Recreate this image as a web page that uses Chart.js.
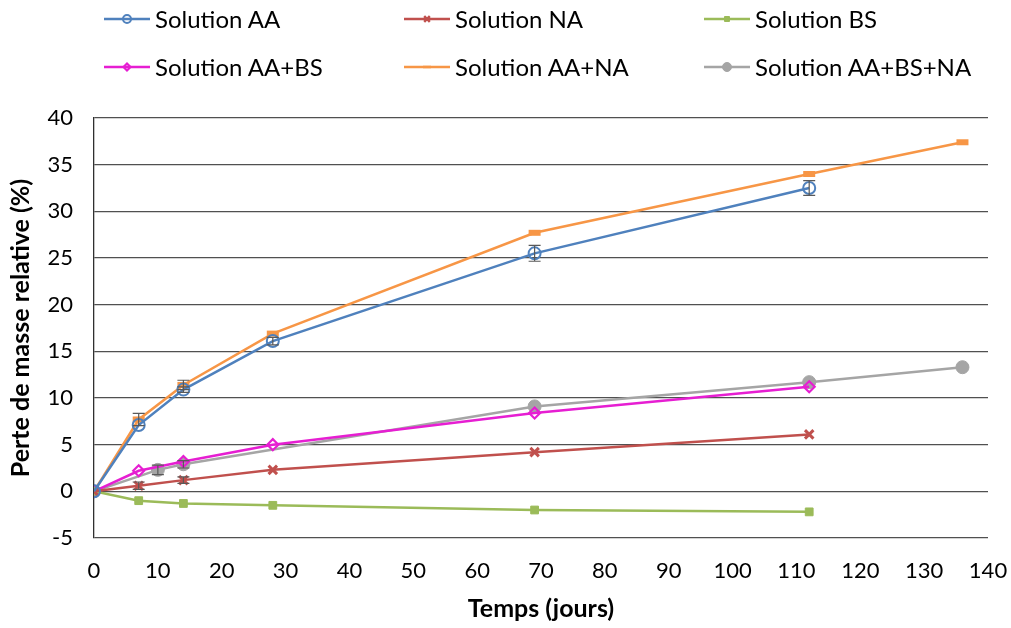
<!DOCTYPE html>
<html>
<head>
<meta charset="utf-8">
<script src="https://cdn.jsdelivr.net/npm/chart.js@4/dist/chart.umd.min.js"></script>
<style>
  html, body { margin: 0; padding: 0; background: #fff; }
  #wrap { position: relative; width: 1011px; height: 628px; }
  #legend { position: absolute; left: 0; top: 0; width: 1011px; height: 90px; font-family: Lato, sans-serif; font-size: 24px; color: #000; }
  .item { position: absolute; height: 30px; line-height: 30px; white-space: nowrap; }
  .item canvas { position: absolute; left: 0; top: 0; }
  .item span { position: absolute; left: 51px; top: 0; }
</style>
</head>
<body>
<div id="wrap">
  <canvas id="chart" width="1011" height="628"></canvas>
  <div id="legend"></div>
</div>
<script>
// data
const seriesNames = ['Solution AA', 'Solution NA', 'Solution BS', 'Solution AA+BS', 'Solution AA+NA', 'Solution AA+BS+NA'];

const daysAA = [0, 7, 14, 28, 69, 112];
const lossAA = [0, 7.1, 10.9, 16.1, 25.5, 32.5];
const errAA = [0, 0, 0.3, 0.4, 0.85, 0.8];

const daysNA = [0, 7, 14, 28, 69, 112];
const lossNA = [0, 0.6, 1.2, 2.3, 4.2, 6.1];
const errNA = [0, 0.4, 0.35, 0, 0, 0];

const daysBS = [0, 7, 14, 28, 69, 112];
const lossBS = [0, -1.0, -1.3, -1.5, -2.0, -2.2];
const errBS = [0, 0, 0, 0, 0, 0];

const daysAABS = [0, 7, 14, 28, 69, 112];
const lossAABS = [0, 2.2, 3.2, 5.0, 8.4, 11.2];
const errAABS = [0, 0, 0, 0, 0, 0];

const daysAANA = [0, 7, 14, 28, 69, 112, 136];
const lossAANA = [0, 7.7, 11.4, 16.9, 27.7, 34.0, 37.4];
const errAANA = [0, 0.65, 0.5, 0, 0, 0, 0];

const daysAABSNA = [0, 10, 14, 69, 112, 136];
const lossAABSNA = [0, 2.3, 2.9, 9.1, 11.7, 13.3];
const errAABSNA = [0, 0.5, 0.4, 0, 0, 0];

const xTicks = [0, 10, 20, 30, 40, 50, 60, 70, 80, 90, 100, 110, 120, 130, 140];
const yTicks = [-5, 0, 5, 10, 15, 20, 25, 30, 35, 40];

const pts = (xs, ys) => xs.map((x, i) => ({ x: x, y: ys[i] }));

const styles = [
  { color: '#4F81BD', pointStyle: 'circle', radius: 6, fill: 'rgba(0,0,0,0)', bw: 2 },
  { color: '#C0504D', pointStyle: 'crossRot', radius: 6, fill: '#C0504D', bw: 3 },
  { color: '#9BBB59', pointStyle: 'rect', radius: 5.5, fill: '#9BBB59', bw: 1 },
  { color: '#E61ED2', pointStyle: 'rectRot', radius: 5.5, fill: 'rgba(0,0,0,0)', bw: 2.2 },
  { color: '#F79646', pointStyle: 'line', radius: 6, fill: '#F79646', bw: 6 },
  { color: '#A5A5A5', pointStyle: 'circle', radius: 6.5, fill: '#A5A5A5', bw: 1 }
];

const allData = [
  pts(daysAA, lossAA), pts(daysNA, lossNA), pts(daysBS, lossBS),
  pts(daysAABS, lossAABS), pts(daysAANA, lossAANA), pts(daysAABSNA, lossAABSNA)
];
const allErr = [errAA, errNA, errBS, errAABS, errAANA, errAABSNA];

const datasets = seriesNames.map((name, i) => ({
  label: name,
  data: allData[i],
  errors: allErr[i],
  showLine: true,
  borderColor: styles[i].color,
  borderWidth: 2.5,
  tension: 0,
  pointStyle: styles[i].pointStyle,
  pointRadius: styles[i].radius,
  pointHoverRadius: styles[i].radius,
  pointBackgroundColor: styles[i].fill,
  pointBorderColor: styles[i].color,
  pointBorderWidth: styles[i].bw
}));

// error bars, drawn through the scales
const errorBars = {
  id: 'errorBars',
  afterDatasetsDraw(chart) {
    const ctx = chart.ctx, xs = chart.scales.x, ys = chart.scales.y;
    ctx.save();
    ctx.strokeStyle = '#595959';
    ctx.lineWidth = 1.2;
    chart.data.datasets.forEach(ds => {
      ds.data.forEach((p, j) => {
        const e = ds.errors[j];
        if (!e) return;
        const px = xs.getPixelForValue(p.x);
        const top = ys.getPixelForValue(p.y + e);
        const bot = ys.getPixelForValue(p.y - e);
        ctx.beginPath();
        ctx.moveTo(px, top); ctx.lineTo(px, bot);
        ctx.moveTo(px - 6, top); ctx.lineTo(px + 6, top);
        ctx.moveTo(px - 6, bot); ctx.lineTo(px + 6, bot);
        ctx.stroke();
      });
    });
    ctx.restore();
  }
};

const tickFont = { family: 'Lato, sans-serif', size: 22 };
const titleFont = { family: 'Lato, sans-serif', size: 25, weight: 'bold' };

new Chart(document.getElementById('chart'), {
  type: 'scatter',
  data: { datasets: datasets },
  options: {
    responsive: false,
    animation: false,
    layout: { padding: { top: 118, right: 23, left: 0, bottom: 0 } },
    plugins: { legend: { display: false }, tooltip: { enabled: false } },
    scales: {
      x: {
        type: 'linear', min: 0, max: 140,
        afterBuildTicks: s => { s.ticks = xTicks.map(v => ({ value: v })); },
        afterFit: s => { s.height = 90; s.paddingLeft = 0; s.paddingRight = 0; },
        grid: { display: false, drawTicks: false },
        border: { display: false },
        ticks: { color: '#000', font: tickFont, padding: 20, maxRotation: 0, autoSkip: false },
        title: { display: true, text: 'Temps (jours)', color: '#000', font: titleFont, padding: { top: 6 } }
      },
      y: {
        type: 'linear', min: -5, max: 40,
        afterBuildTicks: s => { s.ticks = yTicks.map(v => ({ value: v })); },
        afterFit: s => { s.width = 94; s.paddingTop = 0; s.paddingBottom = 0; },
        grid: { color: '#505050', lineWidth: 1.3, drawTicks: false },
        border: { display: true, color: '#303030', width: 1.3 },
        ticks: { color: '#000', font: tickFont, padding: 21 },
        title: { display: true, text: 'Perte de masse relative (%)', color: '#000', font: titleFont, padding: { top: 6, bottom: 0 } }
      }
    }
  },
  plugins: [errorBars]
});

// legend, built from the same series
const legendPos = [[104, 4], [404, 4], [704, 4], [104, 52], [404, 52], [704, 52]];
const legendDiv = document.getElementById('legend');
datasets.forEach((ds, i) => {
  const item = document.createElement('div');
  item.className = 'item';
  item.style.left = legendPos[i][0] + 'px';
  item.style.top = legendPos[i][1] + 'px';
  const c = document.createElement('canvas');
  c.width = 48; c.height = 30;
  const g = c.getContext('2d');
  g.strokeStyle = ds.borderColor; g.lineWidth = 2.5;
  g.beginPath(); g.moveTo(0, 15); g.lineTo(46, 15); g.stroke();
  g.fillStyle = ds.pointBackgroundColor;
  g.strokeStyle = ds.pointBorderColor;
  g.lineWidth = Math.min(ds.pointBorderWidth, 2.5);
  Chart.helpers.drawPoint(g, { pointStyle: ds.pointStyle, radius: ds.pointRadius - 2, borderWidth: ds.pointBorderWidth }, 23, 15);
  const t = document.createElement('span');
  t.textContent = ds.label;
  item.appendChild(c); item.appendChild(t);
  legendDiv.appendChild(item);
});
</script>
</body>
</html>
